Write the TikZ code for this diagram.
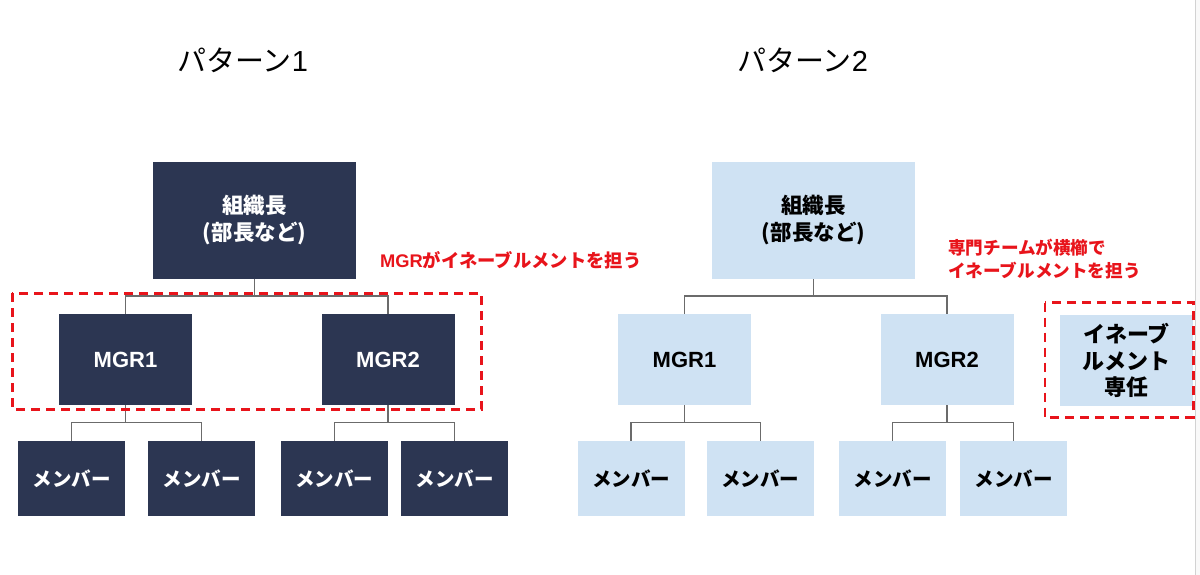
\documentclass[tikz,border=0pt]{standalone}
\usepackage{fontspec}
\setmainfont{Liberation Sans}
\newfontfamily\jp{Noto Sans CJK JP}
\definecolor{navy}{HTML}{2C3652}
\definecolor{lblue}{HTML}{CFE2F3}
\definecolor{lineg}{HTML}{6B6B6B}
\definecolor{redc}{HTML}{E8141B}
\begin{document}
\begin{tikzpicture}[x=1pt,y=-1pt,
  box/.style={inner sep=0pt, align=center},
  dk/.style={box, fill=navy, text=white},
  lt/.style={box, fill=lblue, text=black},
  topbox/.style={minimum width=203pt, minimum height=117pt, font=\jp\bfseries\fontsize{21.5}{27}\selectfont},
  mgr/.style={minimum width=133pt, minimum height=91pt, font=\bfseries\fontsize{22}{27}\selectfont},
  enbox/.style={minimum width=133pt, minimum height=91pt, font=\jp\bfseries\fontsize{22}{26.8}\selectfont},
  mem/.style={minimum width=107pt, minimum height=75.5pt, font=\jp\bfseries\fontsize{19.5}{24}\selectfont},
  conn/.style={draw=lineg, line width=1.3pt},
  dashbox/.style={draw=redc, line width=2.6pt, dash pattern=on 9pt off 6pt},
  note/.style={text=redc, anchor=west, inner sep=0pt, align=left},
  ttl/.style={anchor=west, inner sep=0pt, text=black, font=\jp\fontsize{29}{33}\selectfont}
]
\useasboundingbox (0,0) rectangle (1200,575);
\fill[white] (0,0) rectangle (1200,575);
\fill[gray!5] (1195,0) rectangle (1200,575);
\draw[gray!35, line width=0.8pt] (1195.5,0) -- (1195.5,575);

% titles
\node[ttl] (t1) at (177,60) {パターン{\rmfamily 1}};
\node[ttl] (t2) at (737,60) {パターン{\rmfamily 2}};

% ---------- Pattern 1 ----------
\node[dk, topbox] (top1) at (254.5,220.5) {組織長\\(部長など)};
\node[dk, mgr] (a1) at (125.5,359.5) {MGR1};
\node[dk, mgr] (a2) at (388,359.5) {MGR2};
\node[dk, mem] (a11) at (71.8,478.5) {メンバー};
\node[dk, mem] (a12) at (201.5,478.5) {メンバー};
\node[dk, mem] (a21) at (334.2,478.5) {メンバー};
\node[dk, mem] (a22) at (454.8,478.5) {メンバー};

\coordinate (h1) at (254.5,296);
\draw[conn] (top1.south) -- (h1);
\draw[conn] (h1) -| (a1.north);
\draw[conn] (h1) -| (a2.north);
\coordinate (h11) at (125.5,422.7);
\draw[conn] (a1.south) -- (h11);
\draw[conn] (h11) -| (a11.north);
\draw[conn] (h11) -| (a12.north);
\coordinate (h12) at (388,422.7);
\draw[conn] (a2.south) -- (h12);
\draw[conn] (h12) -| (a21.north);
\draw[conn] (h12) -| (a22.north);

\draw[dashbox] (12.3,293.3) rectangle (481.7,409.3);
\node[note, font=\bfseries\fontsize{18.3}{23}\selectfont] (n1) at (380,260.5) {MGR{\jp がイネーブルメントを担う}};

% ---------- Pattern 2 ----------
\node[lt, topbox] (top2) at (813.5,220.5) {組織長\\(部長など)};
\node[lt, mgr] (b1) at (684.5,359.5) {MGR1};
\node[lt, mgr] (b2) at (947,359.5) {MGR2};
\node[lt, mem] (b11) at (631,478.5) {メンバー};
\node[lt, mem] (b12) at (760.3,478.5) {メンバー};
\node[lt, mem] (b21) at (892.8,478.5) {メンバー};
\node[lt, mem] (b22) at (1013.8,478.5) {メンバー};
\node[lt, enbox] (en) at (1126.5,360.5) {イネーブ\\ルメント\\専任};

\coordinate (h2) at (813.5,296);
\draw[conn] (top2.south) -- (h2);
\draw[conn] (h2) -| (b1.north);
\draw[conn] (h2) -| (b2.north);
\coordinate (h21) at (684.5,422.7);
\draw[conn] (b1.south) -- (h21);
\draw[conn] (h21) -| (b11.north);
\draw[conn] (h21) -| (b12.north);
\coordinate (h22) at (947,422.7);
\draw[conn] (b2.south) -- (h22);
\draw[conn] (h22) -| (b21.north);
\draw[conn] (h22) -| (b22.north);

\draw[dashbox] (1045,302.7) rectangle (1193.5,417.3);
\node[note, font=\jp\bfseries\fontsize{17.6}{23.4}\selectfont] (n2) at (948,259) {専門チームが横櫛で\\イネーブルメントを担う};
\end{tikzpicture}
\end{document}
